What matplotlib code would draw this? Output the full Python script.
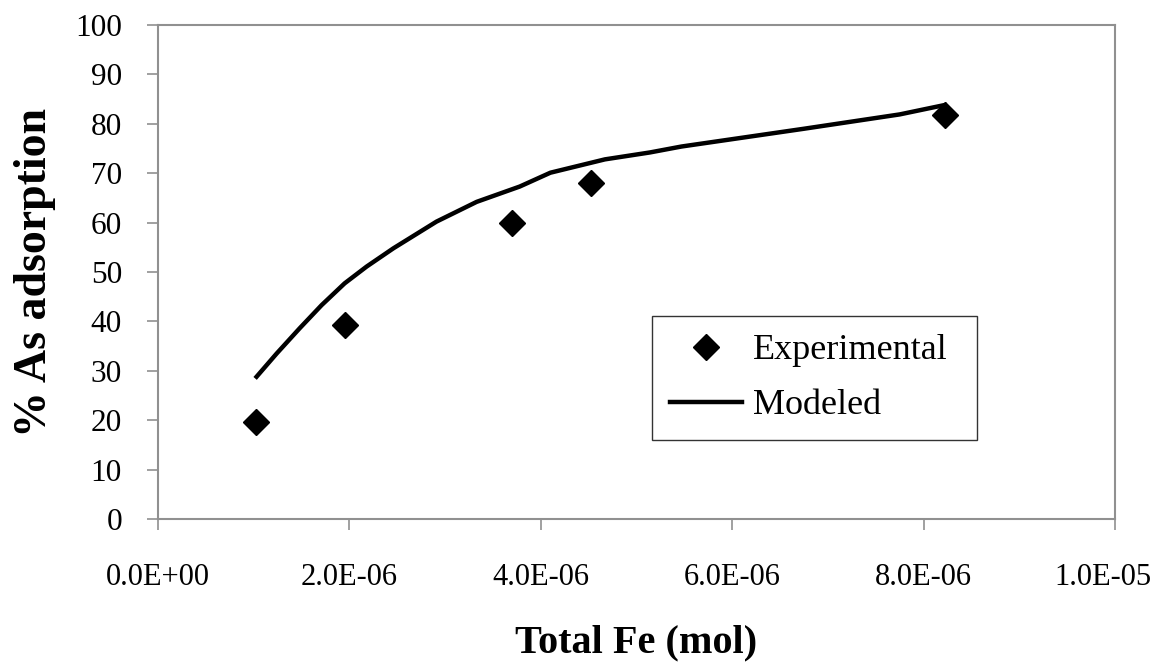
import matplotlib.pyplot as plt
import matplotlib.transforms as mtransforms
from matplotlib.ticker import FuncFormatter

plt.rcParams['font.family'] = ['Liberation Serif', 'DejaVu Serif']

# experimental data
exp_fe = [1.02e-6, 1.95e-6, 3.70e-6, 4.52e-6, 8.22e-6]
exp_ads = [19.6, 39.3, 60.0, 68.1, 81.8]

# modeled curve
mod_fe = [1.03e-6, 1.24e-6, 1.48e-6, 1.71e-6, 1.95e-6, 2.18e-6, 2.46e-6,
          2.91e-6, 3.33e-6, 3.78e-6, 4.10e-6, 4.67e-6, 5.14e-6, 5.47e-6,
          6.75e-6, 7.75e-6, 8.22e-6]
mod_ads = [28.8, 33.5, 38.6, 43.3, 47.7, 51.1, 54.8,
           60.2, 64.2, 67.3, 70.1, 72.8, 74.2, 75.4,
           79.0, 81.9, 83.8]

xticks = [0, 2e-6, 4e-6, 6e-6, 8e-6, 1e-5]
yticks = list(range(0, 101, 10))

fig = plt.figure(figsize=(11.55, 6.68), dpi=100)
ax = fig.add_axes([158 / 1155, 1 - 519 / 668, (1115 - 158) / 1155, (519 - 25) / 668])

ax.plot(mod_fe, mod_ads, color='black', lw=3.2, label='Modeled', zorder=2)
ax.plot(exp_fe, exp_ads, 'D', color='black', ms=13, label='Experimental', zorder=3)

ax.set_xlim(0, 1e-5)
ax.set_ylim(0, 100)
ax.set_xticks(xticks)
ax.set_yticks(yticks)
ax.xaxis.set_major_formatter(FuncFormatter(lambda v, p: '%.1E' % v))

for s in ax.spines.values():
    s.set_color('#909090')
    s.set_linewidth(1.5)
ax.tick_params(axis='x', colors='#909090', length=8, width=1.2, pad=24, labelsize=22, labelcolor='black')
ax.tick_params(axis='y', colors='#909090', length=8, width=1.2, pad=18, labelsize=22.5, labelcolor='black')

# keep the last x label inside the figure
last = ax.get_xticklabels()[-1]
last.set_transform(last.get_transform() + mtransforms.ScaledTranslation(-12 / 100, 0, fig.dpi_scale_trans))

ax.set_xlabel('Total Fe (mol)', fontsize=29, fontweight='bold', labelpad=23)
ax.set_ylabel('% As adsorption', fontsize=33, fontweight='bold', labelpad=14)

h, l = ax.get_legend_handles_labels()
leg = ax.legend(h[::-1], l[::-1], loc='upper left', mode='expand',
                bbox_to_anchor=((652 - 158) / 957, (519 - 450) / 494, (977 - 652) / 957, (450 - 316) / 494),
                fontsize=26, frameon=True, fancybox=False,
                handlelength=2.0, borderpad=0.5, borderaxespad=0,
                labelspacing=0.6, handletextpad=0.3, markerscale=1.0)
leg.get_frame().set_edgecolor('black')
leg.get_frame().set_linewidth(1.0)

fig.savefig('out.png', dpi=100)
